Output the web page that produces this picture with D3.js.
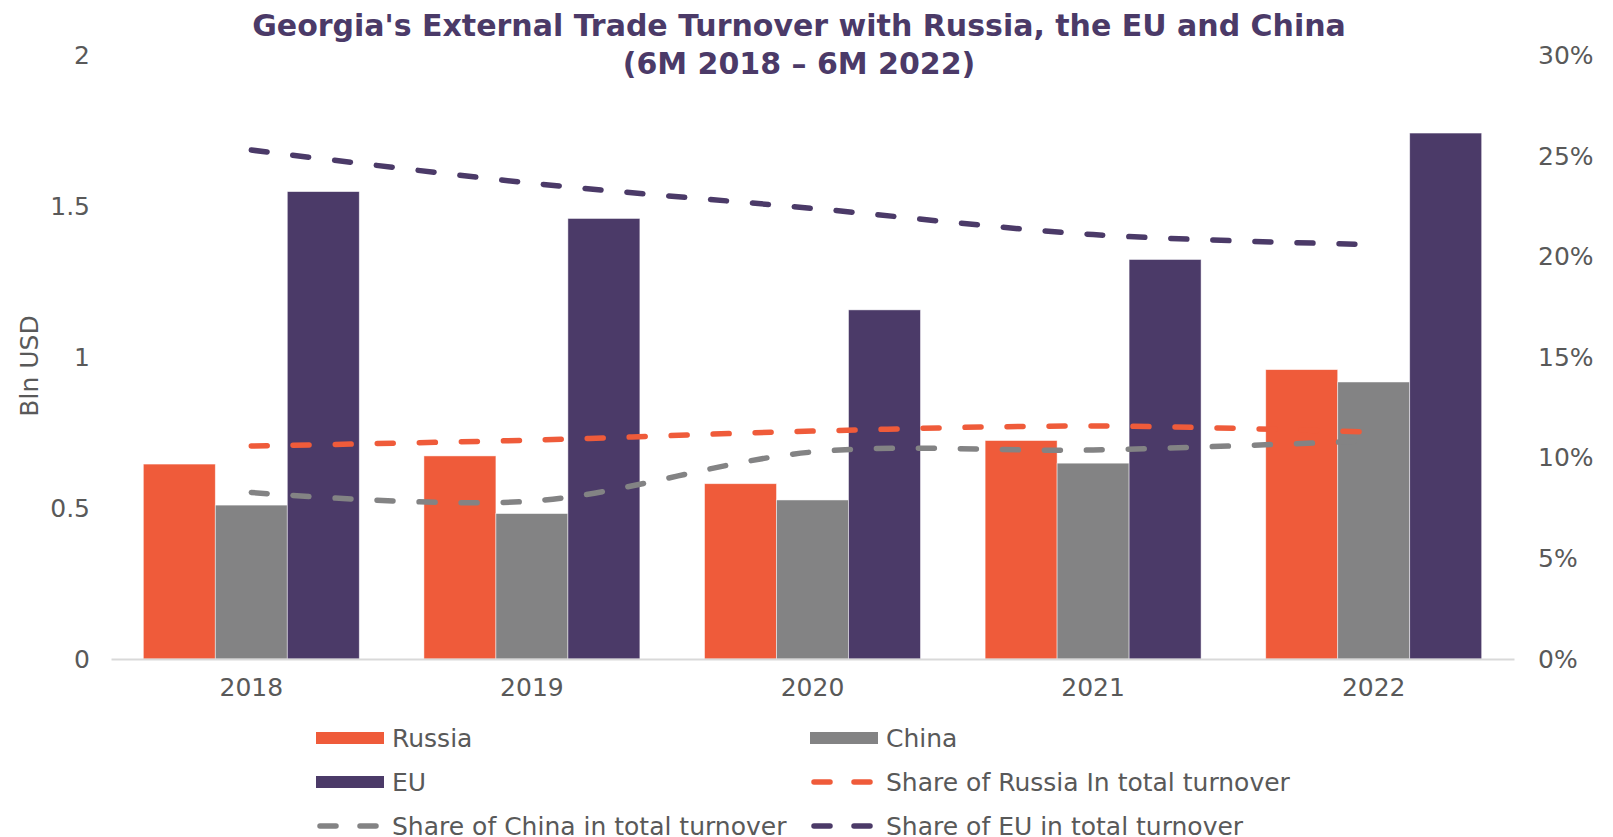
<!DOCTYPE html>
<html>
<head>
<meta charset="utf-8">
<script src="https://cdn.jsdelivr.net/npm/d3@7"></script>
<style>
  body { margin: 0; background: #fff; }
  svg text { font-family: "DejaVu Sans", sans-serif; }
</style>
</head>
<body>
<svg id="chart" width="1613" height="837"></svg>
<script>
// data
var years = ['2018', '2019', '2020', '2021', '2022'];
var russia = [0.646, 0.673, 0.581, 0.724, 0.959];
var china = [0.510, 0.482, 0.527, 0.649, 0.918];
var eu = [1.549, 1.460, 1.157, 1.324, 1.743];
var shareRussia = [0.1059, 0.1088, 0.1133, 0.1158, 0.1128];
var shareChina = [0.0828, 0.0785, 0.1029, 0.1039, 0.1085];
var shareEU = [0.253, 0.2365, 0.224, 0.211, 0.206];
var leftTicks = [0, 0.5, 1, 1.5, 2];
var rightTicks = [0, 0.05, 0.1, 0.15, 0.2, 0.25, 0.3];

var colors = { russia: '#EF5B3A', china: '#838384', eu: '#4B3A68' };
var textColor = '#595959';

var svg = d3.select('#chart');

var x = d3.scaleBand().domain(years).range([111, 1514]).padding(0);
var xs = d3.scaleBand().domain(['russia', 'china', 'eu'])
  .range([0, x.bandwidth()]).paddingInner(0).paddingOuter(0.449);
var y = d3.scaleLinear().domain([0, 2]).range([659, 55.5]);
var y2 = d3.scaleLinear().domain([0, 0.3]).range([659, 55.5]);

// title
svg.append('text')
  .attr('x', 799).attr('y', 36)
  .attr('text-anchor', 'middle')
  .style('font-size', '30px').style('font-weight', 'bold')
  .attr('fill', '#4B3A68')
  .text("Georgia's External Trade Turnover with Russia, the EU and China");
svg.append('text')
  .attr('x', 799).attr('y', 74)
  .attr('text-anchor', 'middle')
  .style('font-size', '30px').style('font-weight', 'bold')
  .attr('fill', '#4B3A68')
  .text('(6M 2018 \u2013 6M 2022)');

// bars
var barSeries = [
  { key: 'russia', values: russia },
  { key: 'china', values: china },
  { key: 'eu', values: eu }
];
barSeries.forEach(function (s) {
  svg.append('g').selectAll('rect')
    .data(s.values)
    .join('rect')
    .attr('x', function (d, i) { return x(years[i]) + xs(s.key); })
    .attr('y', function (d) { return y(d); })
    .attr('width', xs.bandwidth())
    .attr('height', function (d) { return y(0) - y(d); })
    .attr('fill', colors[s.key])
    .attr('stroke', 'rgba(255,255,255,0.6)')
    .attr('stroke-width', 0.8);
});

// axes
var xAxis = svg.append('g')
  .attr('transform', 'translate(0,' + y(0) + ')')
  .call(d3.axisBottom(x).tickSize(0).tickPadding(19));
xAxis.select('.domain').attr('stroke', '#D9D9D9').attr('stroke-width', 2);
xAxis.selectAll('text').style('font-size', '25px').attr('fill', textColor).attr('dy', '0.71em');

var yAxis = svg.append('g')
  .attr('transform', 'translate(90,0)')
  .call(d3.axisLeft(y).tickValues(leftTicks).tickSize(0).tickPadding(0).tickFormat(d3.format('')));
yAxis.select('.domain').remove();
yAxis.selectAll('text').style('font-size', '25px').attr('fill', textColor);

var yAxis2 = svg.append('g')
  .attr('transform', 'translate(1538,0)')
  .call(d3.axisRight(y2).tickValues(rightTicks).tickSize(0).tickPadding(0).tickFormat(d3.format('.0%')));
yAxis2.select('.domain').remove();
yAxis2.selectAll('text').style('font-size', '25px').attr('fill', textColor);

svg.append('text')
  .attr('transform', 'translate(38,366) rotate(-90)')
  .attr('text-anchor', 'middle')
  .style('font-size', '25px')
  .attr('fill', textColor)
  .text('Bln USD');

// share lines
var line = d3.line()
  .x(function (d, i) { return x(years[i]) + x.bandwidth() / 2; })
  .y(function (d) { return y2(d); })
  .curve(d3.curveCatmullRom.alpha(0.5));

var lineSeries = [
  { key: 'russia', values: shareRussia },
  { key: 'china', values: shareChina },
  { key: 'eu', values: shareEU }
];
lineSeries.forEach(function (s) {
  svg.append('path')
    .datum(s.values)
    .attr('d', line)
    .attr('fill', 'none')
    .attr('stroke', colors[s.key])
    .attr('stroke-width', 5.5)
    .attr('stroke-linecap', 'round')
    .attr('stroke-dasharray', '16,26');
});

// legend
var legendItems = [
  { label: 'Russia', key: 'russia', type: 'bar', col: 0, row: 0 },
  { label: 'China', key: 'china', type: 'bar', col: 1, row: 0 },
  { label: 'EU', key: 'eu', type: 'bar', col: 0, row: 1 },
  { label: 'Share of Russia In total turnover', key: 'russia', type: 'line', col: 1, row: 1 },
  { label: 'Share of China in total turnover', key: 'china', type: 'line', col: 0, row: 2 },
  { label: 'Share of EU in total turnover', key: 'eu', type: 'line', col: 1, row: 2 }
];
var colX = [316, 810];
var rowY = [738, 782, 826];

var gLegend = svg.append('g');
legendItems.forEach(function (d) {
  var gx = colX[d.col], gy = rowY[d.row];
  if (d.type === 'bar') {
    gLegend.append('rect')
      .attr('x', gx).attr('y', gy - 6)
      .attr('width', 68).attr('height', 12)
      .attr('fill', colors[d.key]);
  } else {
    gLegend.append('line')
      .attr('x1', gx + 4).attr('x2', gx + 64)
      .attr('y1', gy).attr('y2', gy)
      .attr('stroke', colors[d.key])
      .attr('stroke-width', 5.5)
      .attr('stroke-linecap', 'round')
      .attr('stroke-dasharray', '16,24');
  }
  gLegend.append('text')
    .attr('x', gx + 76).attr('y', gy)
    .attr('dy', '0.35em')
    .style('font-size', '25px')
    .attr('fill', textColor)
    .text(d.label);
});
</script>
</body>
</html>
